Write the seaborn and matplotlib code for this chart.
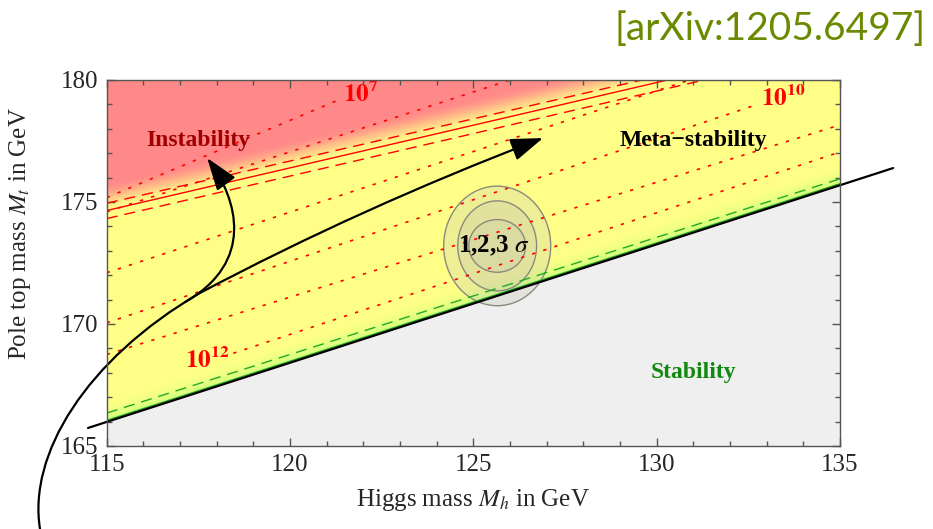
import numpy as np
import matplotlib
matplotlib.use("Agg")
import matplotlib.pyplot as plt
import seaborn as sns
from matplotlib.path import Path
from matplotlib.patches import FancyArrowPatch, Ellipse

# ---- data ----
x_ticks = [115, 120, 125, 130, 135]
y_ticks = [165, 170, 175, 180]

# stability boundary (black line, runs past the frame)
stab_x = [114.49, 136.45]
stab_y = [165.74, 176.39]
# green companions of the stability boundary (at Mh = 115 and 135)
green_x = [115, 135]
green_solid_y = [166.05, 175.75]
green_dash_y = [166.35, 175.95]

# instability boundary (red solid) and the two dashed ones
inst_x = [115, 130.3]
inst_y = [174.65, 180.0]
inst_up_x = [115, 129.6]
inst_up_y = [174.95, 180.0]
inst_lo_x = [115, 131.3]
inst_lo_y = [174.32, 180.0]

# red dotted contours of the instability scale: x0, y0, x1, y1
dotted_x0 = [115, 115, 115, 115, 115, 118.45]
dotted_y0 = [175.18, 174.6, 172.1, 170.05, 168.75, 168.8]
dotted_x1 = [121.35, 126.0, 130.9, 132.75, 135, 135]
dotted_y1 = [179.2, 180.0, 180.0, 179.0, 178.16, 177.05]

contour_labels = ["$\\mathbf{10^{7}}$", "$\\mathbf{10^{10}}$", "$\\mathbf{10^{12}}$"]
contour_lab_x = [121.93, 133.44, 117.73]
contour_lab_y = [179.43, 179.26, 168.52]

# 1,2,3 sigma regions
sig_cx, sig_cy = 125.65, 173.2
sig_w = [2.92, 2.15, 1.55]
sig_h = [4.9, 3.69, 2.16]

# arrows (Bezier control points, data units)
arrow1_x = [113.18, 112.85, 114.41, 117.54, 121.91, 126.90]
arrow1_y = [161.60, 164.63, 168.52, 171.27, 174.75, 177.62]
arrow2_x = [117.14, 119.04, 118.58, 117.74]
arrow2_y = [170.90, 172.54, 175.08, 176.80]

# ---- figure ----
sns.set_theme(style="ticks")
plt.rcParams["font.family"] = ["Liberation Serif", "DejaVu Serif"]
plt.rcParams["mathtext.fontset"] = "stix"

fig = plt.figure(figsize=(9.33, 5.29), dpi=100)
ax = fig.add_axes([0.1144, 0.1569, 0.7859, 0.6919])

# background regions
gx = np.linspace(115, 135, 600)
gy = np.linspace(165, 180, 450)
X, Y = np.meshgrid(gx, gy)
ys = np.interp(X, stab_x, stab_y)
yi = inst_y[0] + (X - inst_x[0]) * (inst_y[1] - inst_y[0]) / (inst_x[1] - inst_x[0])
gray = np.array([0.94, 0.94, 0.94])
yellow = np.array([1.0, 1.0, 0.53])
red = np.array([1.0, 0.54, 0.54])
green = np.array([0.78, 1.0, 0.48])
wr = np.clip((Y - yi + 0.1) / 1.2, 0, 1)
wr = wr * wr * (3 - 2 * wr)
wg = np.clip(1 - (Y - ys) / 0.9, 0, 1) ** 2
img = yellow * (1 - wg[..., None]) + green * wg[..., None]
img = img * (1 - wr[..., None]) + red * wr[..., None]
img[Y < ys] = gray
ax.imshow(img, extent=[115, 135, 165, 180], origin="lower", aspect="auto",
          interpolation="bilinear", zorder=0)

# sigma regions
for w, h in zip(sig_w, sig_h):
    ax.add_patch(Ellipse((sig_cx, sig_cy), w, h, facecolor="#c8c8b4", alpha=0.3,
                         edgecolor="none", zorder=1))
    ax.add_patch(Ellipse((sig_cx, sig_cy), w, h, facecolor="none",
                         edgecolor="#8a8a80", lw=1.0, zorder=1))

# dotted contours
for x0, y0, x1, y1 in zip(dotted_x0, dotted_y0, dotted_x1, dotted_y1):
    sns.lineplot(x=[x0, x1], y=[y0, y1], ax=ax, color="red", lw=1.2,
                 zorder=2).lines[-1].set_dashes((2, 5))
for lab, lx, ly in zip(contour_labels, contour_lab_x, contour_lab_y):
    ax.text(lx, ly, lab, color="red", fontsize=18, ha="center", va="center", zorder=3)

# instability boundary
ax.plot(inst_x, inst_y, color="red", lw=1.0, zorder=2)
ax.plot(inst_up_x, inst_up_y, color="red", lw=1.0, dashes=(8, 5), zorder=2)
ax.plot(inst_lo_x, inst_lo_y, color="red", lw=1.0, dashes=(8, 5), zorder=2)

# stability boundary
ax.plot(green_x, green_solid_y, color="#22aa22", lw=1.0, zorder=2)
ax.plot(green_x, green_dash_y, color="#22aa22", lw=1.0, dashes=(8, 5), zorder=2)
ax.plot(stab_x, stab_y, color="black", lw=1.6, clip_on=False, zorder=4)

# arrows
p1 = Path(list(zip(arrow1_x, arrow1_y)),
          [Path.MOVETO, Path.CURVE4, Path.CURVE4, Path.CURVE4, Path.CURVE3, Path.CURVE3])
ax.add_patch(FancyArrowPatch(path=p1, arrowstyle="-|>,head_length=1.0,head_width=0.35",
                             mutation_scale=20, color="black", lw=1.6, clip_on=False, zorder=5))
p2 = Path(list(zip(arrow2_x, arrow2_y)),
          [Path.MOVETO, Path.CURVE4, Path.CURVE4, Path.CURVE4])
ax.add_patch(FancyArrowPatch(path=p2, arrowstyle="-|>,head_length=1.0,head_width=0.35",
                             mutation_scale=20, color="black", lw=1.6, clip_on=False, zorder=5))

# region names
ax.text(117.5, 177.5, "Instability", color="#a00000", fontsize=17, fontweight="bold",
        ha="center", va="center")
ax.text(131.0, 177.5, "Meta\u2212stability", color="black", fontsize=17, fontweight="bold",
        ha="center", va="center")
ax.text(131.0, 168.0, "Stability", color="#118811", fontsize=17, fontweight="bold",
        ha="center", va="center")
ax.text(125.55, 173.2, "1,2,3 $\\sigma$", color="black", fontsize=18, fontweight="bold",
        ha="center", va="center", zorder=4)

ax.set_xlim(115, 135)
ax.set_ylim(165, 180)
ax.set_xticks(x_ticks)
ax.set_yticks(y_ticks)
ax.set_xticks(np.arange(115, 136), minor=True)
ax.set_yticks(np.arange(165, 181), minor=True)
ax.tick_params(which="both", direction="in", top=True, right=True, color="#555555",
               labelsize=18, width=1)
ax.tick_params(which="major", length=6)
ax.tick_params(which="minor", length=3.5)
ax.tick_params(axis="x", pad=6)
ax.tick_params(axis="y", pad=6)
for s in ax.spines.values():
    s.set_color("#555555")
    s.set_linewidth(1.0)
    s.set_zorder(6)

ax.set_xlabel("Higgs mass $M_h$ in GeV", fontsize=18, labelpad=8)
ax.set_ylabel("Pole top mass $M_t$ in GeV", fontsize=18)
ax.yaxis.set_label_coords(-0.1, 0.58)

fig.text(0.992, 0.945, "[arXiv:1205.6497]", ha="right", va="center", color="#6b8a00",
         fontsize=28, family=["Lato", "DejaVu Sans"])

fig.savefig("out.png", dpi=100)
